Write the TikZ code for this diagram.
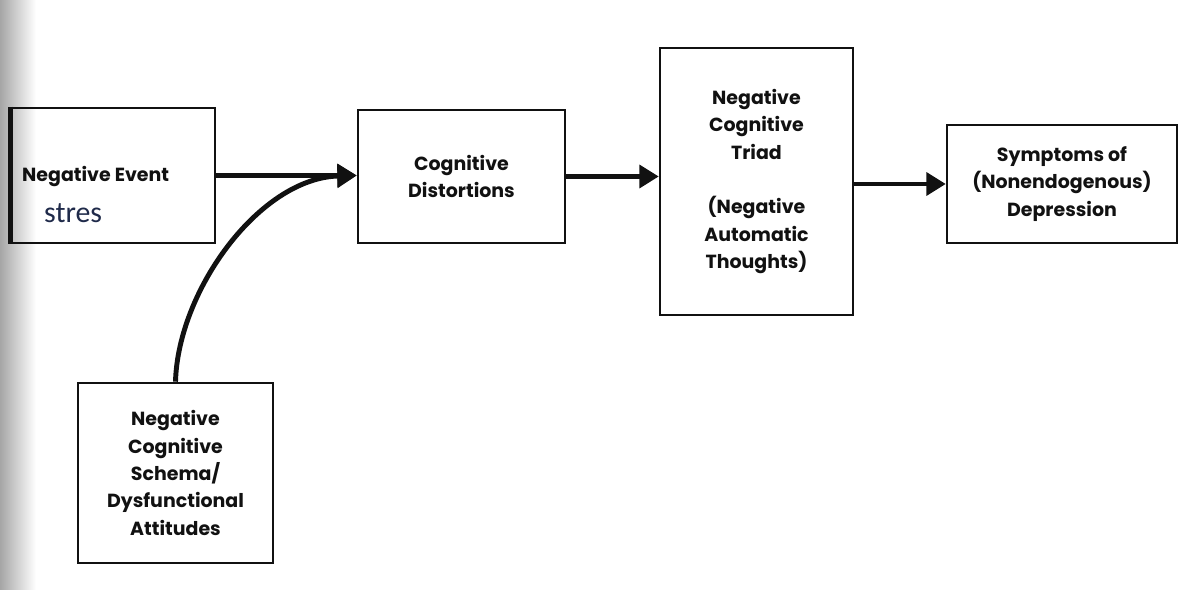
\documentclass[tikz,border=0pt]{standalone}
\usepackage{fontspec}
\newfontfamily\boxfont{Poppins}
\newfontfamily\notefont{Carlito}
\usetikzlibrary{arrows.meta, positioning, calc}
\definecolor{ink}{HTML}{111111}
\definecolor{notecol}{HTML}{1F2A4A}
\definecolor{scan}{HTML}{A6A6A6}

\begin{document}
\begin{tikzpicture}[
    x=0.02cm, y=-0.02cm,
    every node/.style={font=\boxfont\bfseries\fontsize{10.8}{15.6}\selectfont, text=ink},
    block/.style={rectangle, draw=ink, line width=1.5pt, align=center, inner sep=0pt},
    arrow/.style={-{Triangle[length=11pt, width=13pt]}, line width=2.3pt, color=ink}
]
\useasboundingbox (0,0) rectangle (1179,590);

% Scanned page edge
\shade[left color=scan, right color=white] (0,0) rectangle (36,590);

% Boxes
\node[block, minimum width=4.06cm, minimum height=2.7cm] (event) at (113.5,175.5) {};
\node[block, minimum width=4.14cm, minimum height=2.66cm] (distort) at (461.5,176.5) {Cognitive\\Distortions};
\node[block, minimum width=3.86cm, minimum height=5.34cm] (triad) at (756.5,181.5)
    {Negative\\Cognitive\\Triad\\ \mbox{}\\(Negative\\Automatic\\Thoughts)};
\node[block, minimum width=4.6cm, minimum height=2.36cm] (symp) at (1062,184)
    {Symptoms of\\(Nonendogenous)\\Depression};
\node[block, minimum width=3.9cm, minimum height=3.6cm] (schema) at (175.5,473)
    {Negative\\Cognitive\\Schema/\\Dysfunctional\\Attitudes};
\draw[line width=3pt, color=ink] (event.north west) -- (event.south west);

% Texts in the first box
\node[anchor=west] (eventtxt) at (16,177) {Negative Event};
\node[anchor=west, font=\notefont\fontsize{17}{20}\selectfont, text=notecol] (stres) at (38,213) {stres};

% Arrows
\draw[arrow] (event.east) -- (event.east -| distort.west);
\draw[arrow, line width=2.8pt] (schema.north) .. controls (178,290) and (260,178) .. (event.east -| distort.west);
\draw[arrow] (distort.east) -- (distort.east -| triad.west);
\draw[arrow] (symp.west -| triad.east) -- (symp.west);

\end{tikzpicture}
\end{document}
